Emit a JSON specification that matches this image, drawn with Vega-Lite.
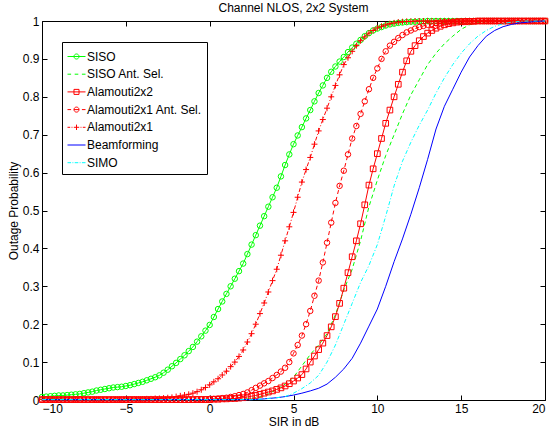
{
  "$schema": "https://vega.github.io/schema/vega-lite/v6.json",
  "width": 503,
  "height": 379,
  "autosize": {"type": "none"},
  "padding": {"left": 42, "top": 21, "right": 7, "bottom": 29},
  "background": "white",
  "title": {"text": "Channel NLOS, 2x2 System", "anchor": "middle", "baseline": "alphabetic", "offset": -9, "font": "Liberation Sans", "fontSize": 12, "fontWeight": "normal", "color": "black"},
  "config": {
    "view": {"stroke": "black", "strokeWidth": 1},
    "axis": {"grid": false, "domain": false, "ticks": true, "tickColor": "black", "tickWidth": 1, "tickSize": -5, "labelPadding": 8, "labelFont": "Liberation Sans", "labelFontSize": 12, "labelColor": "black", "titleFont": "Liberation Sans", "titleFontSize": 12, "titleFontWeight": "normal", "titleColor": "black"},
    "legend": {"strokeColor": "black", "fillColor": "white", "padding": 5, "cornerRadius": 0, "labelFont": "Liberation Sans", "labelFontSize": 12, "labelColor": "black", "symbolSize": 324, "symbolStrokeWidth": 1, "symbolOpacity": 1, "rowPadding": 1.7, "labelOffset": 1, "labelLimit": 0}
  },
  "data": {"values": [
    {"s": "SISO",
     "x": [-10,-9.75,-9.5,-9.25,-9,-8.75,-8.5,-8.25,-8,-7.75,-7.5,-7.25,-7,-6.75,-6.5,-6.25,-6,-5.75,-5.5,-5.25,-5,-4.75,-4.5,-4.25,-4,-3.75,-3.5,-3.25,-3,-2.75,-2.5,-2.25,-2,-1.75,-1.5,-1.25,-1,-0.75,-0.5,-0.25,0,0.25,0.5,0.75,1,1.25,1.5,1.75,2,2.25,2.5,2.75,3,3.25,3.5,3.75,4,4.25,4.5,4.75,5,5.25,5.5,5.75,6,6.25,6.5,6.75,7,7.25,7.5,7.75,8,8.25,8.5,8.75,9,9.25,9.5,9.75,10,10.25,10.5,10.75,11,11.25,11.5,11.75,12,12.25,12.5,12.75,13,13.25,13.5,13.75,14,14.25,14.5,14.75,15,15.25,15.5,15.75,16,16.25,16.5,16.75,17,17.25,17.5,17.75,18,18.25,18.5,18.75,19,19.25,19.5,19.75,20],
     "p": [0.008,0.009,0.010,0.011,0.012,0.012,0.013,0.014,0.015,0.016,0.018,0.020,0.022,0.025,0.027,0.029,0.031,0.033,0.034,0.035,0.037,
           0.039,0.042,0.045,0.048,0.052,0.056,0.060,0.065,0.072,0.080,0.089,0.098,0.108,0.118,0.129,0.140,0.154,0.168,0.183,0.198,
           0.219,0.240,0.260,0.280,0.300,0.320,0.340,0.360,0.385,0.410,0.435,0.460,0.485,0.510,0.535,0.560,0.590,0.620,0.648,0.675,
           0.698,0.720,0.743,0.765,0.788,0.810,0.830,0.850,0.866,0.880,0.893,0.905,0.918,0.930,0.940,0.950,0.960,0.968,0.975,0.980,
           0.984,0.988,0.991,0.993,0.995,0.996,0.997,0.998,0.998,0.999,0.999,1,1,1,1,1,1,1,1,1,
           1,1,1,1,1,1,1,1,1,1,1,1,1,1,1,1,1,1,1,1]},
    {"s": "Alamouti2x2",
     "x": [-10,-9.75,-9.5,-9.25,-9,-8.75,-8.5,-8.25,-8,-7.75,-7.5,-7.25,-7,-6.75,-6.5,-6.25,-6,-5.75,-5.5,-5.25,-5,-4.75,-4.5,-4.25,-4,-3.75,-3.5,-3.25,-3,-2.75,-2.5,-2.25,-2,-1.75,-1.5,-1.25,-1,-0.75,-0.5,-0.25,0,0.25,0.5,0.75,1,1.25,1.5,1.75,2,2.25,2.5,2.75,3,3.25,3.5,3.75,4,4.25,4.5,4.75,5,5.25,5.5,5.75,6,6.25,6.5,6.75,7,7.25,7.5,7.75,8,8.25,8.5,8.75,9,9.25,9.5,9.75,10,10.25,10.5,10.75,11,11.25,11.5,11.75,12,12.25,12.5,12.75,13,13.25,13.5,13.75,14,14.25,14.5,14.75,15,15.25,15.5,15.75,16,16.25,16.5,16.75,17,17.25,17.5,17.75,18,18.25,18.5,18.75,19,19.25,19.5,19.75,20],
     "p": [0.001,0.001,0.001,0.001,0.001,0.001,0.001,0.001,0.001,0.001,0.001,0.001,0.001,0.001,0.001,0.001,0.001,0.001,0.001,0.001,0.001,
           0.001,0.001,0.001,0.001,0.001,0.001,0.001,0.001,0.001,0.001,0.001,0.001,0.001,0.001,0.001,0.001,0.001,0.001,0.001,0.001,
           0.002,0.002,0.003,0.003,0.004,0.004,0.005,0.006,0.008,0.010,0.012,0.015,0.018,0.021,0.024,0.028,0.032,0.037,0.043,0.050,
           0.058,0.067,0.082,0.100,0.116,0.133,0.150,0.170,0.193,0.220,0.255,0.295,0.336,0.378,0.420,0.465,0.515,0.567,0.610,0.650,
           0.690,0.730,0.765,0.800,0.833,0.865,0.895,0.920,0.935,0.948,0.959,0.968,0.975,0.981,0.986,0.990,0.993,0.995,0.997,0.998,
           0.998,0.999,0.999,1,1,1,1,1,1,1,1,1,1,1,1,1,1,1,1,1]},
    {"s": "Alamouti2x1 Ant. Sel.",
     "x": [-10,-9.75,-9.5,-9.25,-9,-8.75,-8.5,-8.25,-8,-7.75,-7.5,-7.25,-7,-6.75,-6.5,-6.25,-6,-5.75,-5.5,-5.25,-5,-4.75,-4.5,-4.25,-4,-3.75,-3.5,-3.25,-3,-2.75,-2.5,-2.25,-2,-1.75,-1.5,-1.25,-1,-0.75,-0.5,-0.25,0,0.25,0.5,0.75,1,1.25,1.5,1.75,2,2.25,2.5,2.75,3,3.25,3.5,3.75,4,4.25,4.5,4.75,5,5.25,5.5,5.75,6,6.25,6.5,6.75,7,7.25,7.5,7.75,8,8.25,8.5,8.75,9,9.25,9.5,9.75,10,10.25,10.5,10.75,11,11.25,11.5,11.75,12,12.25,12.5,12.75,13,13.25,13.5,13.75,14,14.25,14.5,14.75,15,15.25,15.5,15.75,16,16.25,16.5,16.75,17,17.25,17.5,17.75,18,18.25,18.5,18.75,19,19.25,19.5,19.75,20],
     "p": [0.001,0.001,0.001,0.001,0.001,0.001,0.001,0.001,0.001,0.001,0.001,0.001,0.001,0.001,0.001,0.001,0.001,0.001,0.001,0.001,0.001,
           0.001,0.001,0.001,0.001,0.001,0.001,0.001,0.001,0.001,0.001,0.001,0.001,0.001,0.001,0.001,0.001,0.002,0.002,0.002,0.003,
           0.003,0.004,0.005,0.006,0.008,0.010,0.013,0.016,0.020,0.026,0.032,0.038,0.044,0.050,0.058,0.066,0.075,0.085,0.100,0.123,
           0.145,0.170,0.200,0.235,0.275,0.315,0.363,0.415,0.468,0.520,0.565,0.605,0.648,0.690,0.723,0.755,0.788,0.820,0.850,0.875,
           0.900,0.920,0.935,0.945,0.955,0.963,0.970,0.975,0.980,0.984,0.987,0.990,0.992,0.994,0.996,0.997,0.997,0.998,0.999,0.999,
           1,1,1,1,1,1,1,1,1,1,1,1,1,1,1,1,1,1,1,1]},
    {"s": "Alamouti2x1",
     "x": [-10,-9.75,-9.5,-9.25,-9,-8.75,-8.5,-8.25,-8,-7.75,-7.5,-7.25,-7,-6.75,-6.5,-6.25,-6,-5.75,-5.5,-5.25,-5,-4.75,-4.5,-4.25,-4,-3.75,-3.5,-3.25,-3,-2.75,-2.5,-2.25,-2,-1.75,-1.5,-1.25,-1,-0.75,-0.5,-0.25,0,0.25,0.5,0.75,1,1.25,1.5,1.75,2,2.25,2.5,2.75,3,3.25,3.5,3.75,4,4.25,4.5,4.75,5,5.25,5.5,5.75,6,6.25,6.5,6.75,7,7.25,7.5,7.75,8,8.25,8.5,8.75,9,9.25,9.5,9.75,10,10.25,10.5,10.75,11,11.25,11.5,11.75,12,12.25,12.5,12.75,13,13.25,13.5,13.75,14,14.25,14.5,14.75,15,15.25,15.5,15.75,16,16.25,16.5,16.75,17,17.25,17.5,17.75,18,18.25,18.5,18.75,19,19.25,19.5,19.75,20],
     "p": [0.001,0.001,0.001,0.001,0.001,0.001,0.001,0.001,0.001,0.001,0.001,0.001,0.001,0.001,0.001,0.001,0.001,0.001,0.001,0.001,0.001,
           0.002,0.002,0.002,0.002,0.003,0.003,0.004,0.004,0.005,0.006,0.007,0.009,0.011,0.013,0.015,0.018,0.022,0.027,0.033,0.040,
           0.048,0.056,0.066,0.076,0.088,0.100,0.115,0.132,0.153,0.175,0.200,0.228,0.256,0.285,0.315,0.345,0.382,0.420,0.457,0.495,
           0.535,0.575,0.608,0.640,0.675,0.710,0.740,0.770,0.800,0.830,0.858,0.885,0.903,0.920,0.935,0.948,0.958,0.968,0.975,0.982,
           0.986,0.990,0.993,0.995,0.997,0.998,0.999,0.999,1,1,1,1,1,1,1,1,1,1,1,1,
           1,1,1,1,1,1,1,1,1,1,1,1,1,1,1,1,1,1,1,1]},
    {"s": "SISO Ant. Sel.",
     "x": [-10,-9.5,-9,-8.5,-8,-7.5,-7,-6.5,-6,-5.5,-5,-4.5,-4,-3.5,-3,-2.5,-2,-1.5,-1,-0.5,0,0.5,1,1.5,2,2.5,3,3.5,4,4.5,5,5.5,6,6.5,7,7.5,8,8.5,9,9.5,10,10.5,11,11.5,12,12.5,13,13.5,14,14.5,15,15.5,16,16.5,17,17.5,18,18.5,19,19.5,20],
     "p": [0.001,0.001,0.001,0.001,0.001,0.001,0.001,0.001,0.001,0.001,0.001,0.001,0.001,0.001,0.001,0.001,0.001,0.001,0.001,0.001,
           0.001,0.001,0.001,0.001,0.002,0.004,0.008,0.016,0.028,0.042,0.060,0.090,0.120,0.145,0.175,0.225,0.290,0.345,0.420,0.510,
           0.580,0.645,0.700,0.755,0.805,0.845,0.885,0.915,0.940,0.960,0.978,0.990,0.996,0.998,1,1,1,1,1,1,
           1]},
    {"s": "Beamforming",
     "x": [-10,-9.5,-9,-8.5,-8,-7.5,-7,-6.5,-6,-5.5,-5,-4.5,-4,-3.5,-3,-2.5,-2,-1.5,-1,-0.5,0,0.5,1,1.5,2,2.5,3,3.5,4,4.5,5,5.5,6,6.5,7,7.5,8,8.5,9,9.5,10,10.5,11,11.5,12,12.5,13,13.5,14,14.5,15,15.5,16,16.5,17,17.5,18,18.5,19,19.5,20],
     "p": [0.001,0.001,0.001,0.001,0.001,0.001,0.001,0.001,0.001,0.001,0.001,0.001,0.001,0.001,0.001,0.001,0.001,0.001,0.001,0.001,
           0.001,0.001,0.001,0.001,0.001,0.001,0.002,0.004,0.006,0.009,0.013,0.018,0.024,0.031,0.042,0.060,0.082,0.110,0.150,0.195,
           0.240,0.300,0.365,0.425,0.490,0.560,0.635,0.715,0.775,0.820,0.865,0.905,0.935,0.960,0.975,0.985,0.991,0.995,0.997,0.999,
           1]},
    {"s": "SIMO",
     "x": [-10,-9.5,-9,-8.5,-8,-7.5,-7,-6.5,-6,-5.5,-5,-4.5,-4,-3.5,-3,-2.5,-2,-1.5,-1,-0.5,0,0.5,1,1.5,2,2.5,3,3.5,4,4.5,5,5.5,6,6.5,7,7.5,8,8.5,9,9.5,10,10.5,11,11.5,12,12.5,13,13.5,14,14.5,15,15.5,16,16.5,17,17.5,18,18.5,19,19.5,20],
     "p": [0.001,0.001,0.001,0.001,0.001,0.001,0.001,0.001,0.001,0.001,0.001,0.001,0.001,0.001,0.001,0.001,0.001,0.001,0.001,0.001,
           0.001,0.001,0.001,0.001,0.001,0.001,0.002,0.004,0.006,0.009,0.018,0.030,0.045,0.065,0.100,0.145,0.200,0.255,0.310,0.355,
           0.410,0.485,0.565,0.630,0.680,0.725,0.765,0.810,0.850,0.885,0.915,0.940,0.960,0.975,0.986,0.993,0.997,0.999,1,1,
           1]}
  ]},
  "transform": [{"flatten": ["x", "p"]}],
  "encoding": {
    "x": {"field": "x", "type": "quantitative", "scale": {"domain": [-10, 20], "nice": false, "zero": false}, "axis": null},
    "y": {"field": "p", "type": "quantitative", "scale": {"domain": [0, 1], "nice": false}, "axis": null}
  },
  "resolve": {"axis": {"x": "independent", "y": "independent"}},
  "layer": [
    {
      "transform": [{"filter": "datum.p > 1"}],
      "mark": {"type": "point", "filled": false, "opacity": 1},
      "encoding": {
        "x": {"field": "x", "type": "quantitative", "scale": {"domain": [-10, 20], "nice": false, "zero": false},
              "axis": {"orient": "top", "labels": false, "title": null, "values": [-10, -5, 0, 5, 10, 15, 20]}},
        "y": {"field": "p", "type": "quantitative", "scale": {"domain": [0, 1], "nice": false},
              "axis": {"orient": "right", "labels": false, "title": null, "values": [0, 0.1, 0.2, 0.3, 0.4, 0.5, 0.6, 0.7, 0.8, 0.9, 1]}},
        "color": {"field": "s", "type": "nominal",
          "scale": {"domain": ["SISO", "SISO Ant. Sel.", "Alamouti2x2", "Alamouti2x1 Ant. Sel.", "Alamouti2x1", "Beamforming", "SIMO"],
                    "range": ["#00ff00", "#00ff00", "#ff0000", "#ff0000", "#ff0000", "#0000ff", "#00ffff"]},
          "legend": {"title": null, "orient": "none", "legendX": 20, "legendY": 21}},
        "shape": {"field": "s", "type": "nominal",
          "scale": {"domain": ["SISO", "SISO Ant. Sel.", "Alamouti2x2", "Alamouti2x1 Ant. Sel.", "Alamouti2x1", "Beamforming", "SIMO"],
                    "range": [
                      "M-1,0L1,0M-0.28,0A0.28,0.28 0 1,1 0.28,0A0.28,0.28 0 1,1 -0.28,0",
                      "M-1,0L-0.6,0M-0.2,0L0.2,0M0.6,0L1,0",
                      "M-1,0L1,0M-0.28,-0.28L0.28,-0.28L0.28,0.28L-0.28,0.28Z",
                      "M-1,0L-0.6,0M-0.28,0L0.28,0M-0.28,0A0.28,0.28 0 1,1 0.28,0A0.28,0.28 0 1,1 -0.28,0M0.6,0L1,0",
                      "M-1,0L-0.7,0M-0.55,0L-0.45,0M-0.3,0L0.3,0M0,-0.3L0,0.3M0.45,0L0.55,0M0.7,0L1,0",
                      "M-1,0L1,0",
                      "M-1,0L-0.6,0M-0.45,0L-0.35,0M-0.2,0L0.2,0M0.35,0L0.45,0M0.6,0L1,0"
                    ]},
          "legend": {"title": null, "orient": "none", "legendX": 20, "legendY": 21}}
      }
    },
    {
      "transform": [{"filter": {"field": "s", "equal": "SISO"}}],
      "mark": {"type": "line", "color": "#00ff00", "strokeWidth": 1,
               "point": {"shape": "circle", "filled": false, "color": "#00ff00", "size": 30, "strokeWidth": 1, "opacity": 1}},
      "encoding": {
        "x": {"field": "x", "type": "quantitative", "scale": {"domain": [-10, 20], "nice": false, "zero": false},
              "axis": {"orient": "bottom", "title": "SIR in dB", "values": [-10, -5, 0, 5, 10, 15, 20], "format": "~g", "titlePadding": 2}},
        "y": {"field": "p", "type": "quantitative", "scale": {"domain": [0, 1], "nice": false},
              "axis": {"orient": "left", "title": "Outage Probability", "values": [0, 0.1, 0.2, 0.3, 0.4, 0.5, 0.6, 0.7, 0.8, 0.9, 1], "format": "~g", "titlePadding": 2}}
      }
    },
    {
      "transform": [{"filter": {"field": "s", "equal": "SISO Ant. Sel."}}],
      "mark": {"type": "line", "color": "#00ff00", "strokeWidth": 1, "strokeDash": [4, 3]}
    },
    {
      "transform": [{"filter": {"field": "s", "equal": "Alamouti2x2"}}],
      "mark": {"type": "line", "color": "#ff0000", "strokeWidth": 1,
               "point": {"shape": "square", "filled": false, "color": "#ff0000", "size": 32, "strokeWidth": 1, "opacity": 1}}
    },
    {
      "transform": [{"filter": {"field": "s", "equal": "Alamouti2x1 Ant. Sel."}}],
      "mark": {"type": "line", "color": "#ff0000", "strokeWidth": 1, "strokeDash": [4, 3],
               "point": {"shape": "circle", "filled": false, "color": "#ff0000", "size": 30, "strokeWidth": 1, "opacity": 1}}
    },
    {
      "transform": [{"filter": {"field": "s", "equal": "Alamouti2x1"}}],
      "mark": {"type": "line", "color": "#ff0000", "strokeWidth": 1, "strokeDash": [4, 2, 1, 2],
               "point": {"shape": "M-1,0L1,0M0,-1L0,1", "filled": false, "color": "#ff0000", "size": 36, "strokeWidth": 1, "opacity": 1}}
    },
    {
      "transform": [{"filter": {"field": "s", "equal": "Beamforming"}}],
      "mark": {"type": "line", "color": "#0000ff", "strokeWidth": 1}
    },
    {
      "transform": [{"filter": {"field": "s", "equal": "SIMO"}}],
      "mark": {"type": "line", "color": "#00ffff", "strokeWidth": 1, "strokeDash": [4, 2, 1, 2]}
    }
  ]
}
